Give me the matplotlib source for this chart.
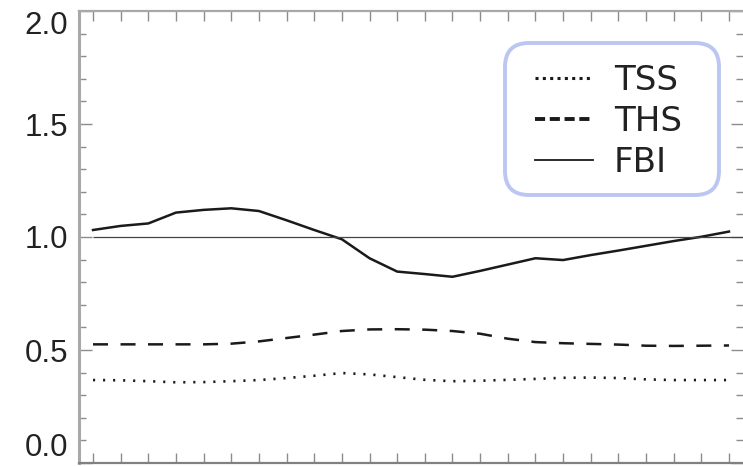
import matplotlib
matplotlib.use('Agg')
import matplotlib.pyplot as plt
from matplotlib.lines import Line2D
from matplotlib.patches import FancyBboxPatch
from matplotlib.transforms import IdentityTransform
from matplotlib.ticker import MultipleLocator

# Series, one value per step (24 steps)
steps = list(range(24))
tss = [0.367, 0.366, 0.362, 0.357, 0.358, 0.362, 0.367, 0.376, 0.386, 0.398,
       0.392, 0.380, 0.368, 0.362, 0.364, 0.368, 0.372, 0.377, 0.378, 0.376,
       0.370, 0.367, 0.367, 0.367]
ths = [0.525, 0.525, 0.525, 0.525, 0.525, 0.528, 0.538, 0.553, 0.568, 0.584,
       0.591, 0.592, 0.590, 0.584, 0.572, 0.550, 0.535, 0.530, 0.527, 0.524,
       0.519, 0.518, 0.519, 0.520]
fbi = [1.031, 1.049, 1.060, 1.108, 1.120, 1.127, 1.115, 1.074, 1.031, 0.990,
       0.906, 0.847, 0.836, 0.824, 0.850, 0.878, 0.906, 0.898, 0.920, 0.940,
       0.961, 0.982, 1.001, 1.024]
labels = ['TSS', 'THS', 'FBI']
ref_level = 1.0
y_ticks = [0.0, 0.5, 1.0, 1.5, 2.0]

INK = '#1a1a1a'
AXIS_GREY = '#8c8c8c'

W, H = 743, 466
fig = plt.figure(figsize=(W / 100, H / 100), dpi=100)
ax = fig.add_axes([79.2 / W, 3 / H, 663.6 / W, 452 / H])

ax.plot(steps, tss, color=INK, lw=1.9, dashes=(0.8, 3.0))
ax.plot(steps, ths, color=INK, lw=1.8, dashes=(6.0, 5.0))
ax.plot(steps, fbi, color=INK, lw=1.8)
ax.hlines(ref_level, steps[0], steps[-1] + 0.5, color='#444444', lw=0.9)

ax.set_xlim(-0.5, 23.5)
ax.set_ylim(0, 2)

# inward ticks on all four sides, IDL style
ax.xaxis.set_major_locator(MultipleLocator(1))
ax.set_yticks(y_ticks)
ax.yaxis.set_minor_locator(MultipleLocator(0.1))
ax.tick_params(axis='x', which='major', direction='in', top=True, bottom=True,
               length=7, width=1, color=AXIS_GREY, labelbottom=False)
ax.tick_params(axis='y', which='major', direction='in', left=True, right=True,
               length=9, width=1, color=AXIS_GREY, labelsize=22.5,
               labelcolor='#222222', pad=8)
ax.tick_params(axis='y', which='minor', direction='in', left=True, right=True,
               length=5, width=1, color=AXIS_GREY)
ax.set_yticklabels([f'{v:.1f}' for v in y_ticks], family='Liberation Sans')
tl = ax.get_yticklabels()
tl[0].set_va('bottom')
tl[-1].set_va('top')

ax.spines['left'].set_color('#a8a8a8')
ax.spines['left'].set_linewidth(2.2)
ax.spines['top'].set_color('#a8a8a8')
ax.spines['top'].set_linewidth(1.6)
ax.spines['bottom'].set_color('#808080')
ax.spines['bottom'].set_linewidth(1.6)
ax.spines['right'].set_visible(False)

# legend entries without frame; the rounded box is drawn separately
handles = [
    Line2D([], [], color=INK, lw=2.2, dashes=(1, 1.4)),
    Line2D([], [], color=INK, lw=2.8, dashes=(2.6, 1.2)),
    Line2D([], [], color=INK, lw=1.3),
]
leg = ax.legend(handles, labels, loc='upper left',
                bbox_to_anchor=(535 / W, 1 - 64 / H), bbox_transform=fig.transFigure,
                prop={'family': 'DejaVu Sans', 'size': 24.5},
                handlelength=1.7, handletextpad=0.62, labelspacing=0.24,
                borderpad=0, borderaxespad=0, frameon=False)
leg.set_zorder(6)
for t in leg.get_texts():
    t.set_color('#222222')

# box in pixel units: x 505..719, y 43..195 from the top
box = FancyBboxPatch((505, H - 195), 214, 152,
                     boxstyle='round,pad=0,rounding_size=24',
                     transform=IdentityTransform(), facecolor='white',
                     edgecolor='#bcc6f2', linewidth=2.8, zorder=5, clip_on=False)
ax.add_patch(box)

fig.savefig('out.png', dpi=100, facecolor='white')
